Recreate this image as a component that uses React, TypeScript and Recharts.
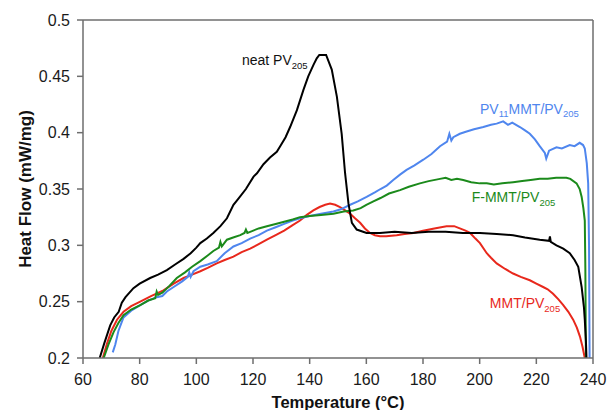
import React from "react";
import { LineChart, Line, XAxis, YAxis, ReferenceLine, ReferenceDot, Label } from "recharts";

// [temperature °C, heat flow mW/mg]
const neatPV205: [number, number][] = [
  [65.9, 0.2], [67.5, 0.213], [69.6, 0.229], [71, 0.236], [72.6, 0.241], [73.7, 0.249], [75, 0.254],
  [77.8, 0.262], [80, 0.266], [83.7, 0.271], [86.5, 0.274], [89.6, 0.278], [92.5, 0.283], [95.5, 0.288],
  [98, 0.293], [100, 0.298], [101.4, 0.302], [103.7, 0.306], [106, 0.311], [108.5, 0.317], [110.8, 0.324],
  [113.1, 0.336], [115, 0.342], [117.5, 0.35], [120.2, 0.361], [121.4, 0.364], [123.7, 0.372], [126, 0.378],
  [128.4, 0.383], [129.6, 0.388], [131.5, 0.396], [133.1, 0.405], [135.5, 0.42], [137.8, 0.438], [139.5, 0.45],
  [141.3, 0.46], [142.5, 0.466], [143.4, 0.469], [145.8, 0.469], [147.8, 0.456], [149.6, 0.432], [151.3, 0.399],
  [152.5, 0.364], [153.7, 0.337], [154.9, 0.32], [156.6, 0.314], [160.1, 0.311], [164.8, 0.311], [170, 0.312],
  [176, 0.311], [182, 0.312], [188, 0.312], [194, 0.311], [200.1, 0.311], [206, 0.31], [211.8, 0.309],
  [216, 0.307], [221.2, 0.305], [224.5, 0.304], [224.8, 0.308], [225.1, 0.303], [227.1, 0.3], [229.5, 0.297],
  [231.8, 0.293], [233.5, 0.287], [234.8, 0.281], [236, 0.263], [236.8, 0.245], [237.1, 0.234], [237.5, 0.215],
  [237.7, 0.2],
];

const mmtPV205: [number, number][] = [
  [67, 0.2], [68.5, 0.213], [70, 0.224], [72, 0.234], [74.3, 0.241], [77, 0.246], [80.2, 0.25], [84, 0.255],
  [88.4, 0.26], [92, 0.266], [95.5, 0.271], [98.5, 0.274], [101.4, 0.277], [104, 0.28], [107.2, 0.284],
  [110, 0.287], [113.1, 0.29], [116, 0.294], [119, 0.297], [122, 0.301], [124.9, 0.305], [128, 0.309],
  [131, 0.313], [134, 0.318], [136.6, 0.322], [139, 0.327], [141.3, 0.331], [143.5, 0.334], [145.5, 0.336],
  [147.2, 0.337], [149, 0.336], [150.7, 0.334], [152.5, 0.331], [154.3, 0.328], [156, 0.324], [157.8, 0.32],
  [159.5, 0.315], [161.3, 0.311], [163, 0.309], [164.8, 0.308], [167, 0.308], [170.7, 0.309], [173.5, 0.31],
  [176.6, 0.311], [180, 0.313], [184, 0.315], [188.3, 0.317], [191, 0.317], [193, 0.315], [195, 0.313],
  [196.6, 0.311], [198.5, 0.306], [200.1, 0.302], [202.5, 0.293], [204, 0.289], [206, 0.284], [209, 0.279],
  [211.8, 0.275], [214.5, 0.272], [217.7, 0.269], [220, 0.266], [222.4, 0.263], [224, 0.261], [225.9, 0.257],
  [227.8, 0.252], [229.5, 0.247], [231.3, 0.241], [233, 0.234], [234.3, 0.227], [235.4, 0.219], [236.3, 0.21],
  [237.1, 0.2],
];

const fmmtPV205: [number, number][] = [
  [67.3, 0.2], [69, 0.212], [70.8, 0.223], [72.5, 0.231], [74.3, 0.238], [77, 0.243], [80.2, 0.247],
  [83, 0.251], [85.5, 0.253], [86, 0.259], [86.5, 0.256], [88, 0.258], [90.5, 0.264], [93.1, 0.271],
  [96, 0.276], [98.5, 0.281], [101.4, 0.286], [104, 0.291], [106, 0.295], [108, 0.298], [108.5, 0.303],
  [109, 0.299], [110.8, 0.305], [113, 0.307], [115.5, 0.309], [117, 0.311], [117.5, 0.314], [118, 0.311],
  [119, 0.312], [122, 0.315], [124.9, 0.317], [128, 0.319], [131, 0.321], [134, 0.323], [136.6, 0.325],
  [140, 0.326], [144, 0.327], [148.4, 0.328], [152, 0.33], [155.4, 0.331], [158, 0.333], [160, 0.336],
  [162.5, 0.339], [165, 0.342], [168, 0.346], [171.9, 0.349], [175, 0.352], [178.9, 0.355], [182, 0.357],
  [186, 0.359], [188, 0.36], [190, 0.358], [192, 0.359], [194.2, 0.358], [197, 0.356], [200, 0.355],
  [202.5, 0.355], [205, 0.354], [208, 0.355], [211.8, 0.356], [215, 0.357], [218, 0.358], [221.2, 0.359],
  [224, 0.359], [227, 0.36], [230.6, 0.36], [232, 0.359], [234.2, 0.355], [235.3, 0.35], [236, 0.343],
  [236.6, 0.333], [237.1, 0.322], [237.3, 0.28], [237.5, 0.2],
];

const pv11mmtPV205: [number, number][] = [
  [70.5, 0.205], [71.4, 0.212], [72.5, 0.224], [74.3, 0.236], [77, 0.242], [80.2, 0.247], [83, 0.251],
  [86, 0.254], [88, 0.255], [89.6, 0.259], [92, 0.263], [95, 0.268], [97, 0.272], [97.5, 0.276], [98, 0.272],
  [99, 0.277], [101.4, 0.281], [104, 0.283], [107.2, 0.286], [110, 0.293], [113.1, 0.299], [116, 0.302],
  [119, 0.306], [122, 0.309], [124.9, 0.313], [128, 0.316], [131, 0.319], [134, 0.322], [136.6, 0.324],
  [140, 0.326], [144, 0.328], [148.4, 0.33], [151, 0.332], [154.3, 0.336], [157, 0.339], [160.1, 0.343],
  [163, 0.347], [165, 0.35], [167.2, 0.353], [169.5, 0.358], [172, 0.363], [174.2, 0.367], [177, 0.371],
  [180.1, 0.376], [183, 0.381], [186, 0.388], [188.5, 0.392], [189.3, 0.399], [190, 0.393], [190.7, 0.396],
  [193, 0.399], [195.4, 0.401], [198, 0.403], [201.3, 0.405], [204, 0.407], [206, 0.408], [208.3, 0.41],
  [210, 0.407], [211.5, 0.409], [214.2, 0.405], [216, 0.402], [217.7, 0.399], [219.5, 0.394], [221.2, 0.388],
  [223, 0.382], [223.5, 0.377], [224.5, 0.384], [227.1, 0.387], [229, 0.386], [231.8, 0.389], [233.5, 0.388],
  [235.3, 0.391], [236.5, 0.389], [237.1, 0.386], [237.8, 0.373], [238.3, 0.355], [238.6, 0.3], [238.8, 0.2],
];

const xTicks = [60, 80, 100, 120, 140, 160, 180, 200, 220, 240];
const yTicks = [0.2, 0.25, 0.3, 0.35, 0.4, 0.45, 0.5];

const toRows = (arr: [number, number][]) => arr.map(([t, v]) => ({ t, v }));

const FONT = "'Liberation Sans', Arial, Helvetica, sans-serif";
const BLACK = "#000000";
const RED = "#e8281c";
const GREEN = "#1b8a1b";
const BLUE = "#4f86ee";
const AXIS = "#6e6e6e";

type Part = { s: string; sub?: boolean };

const makeLabel = (parts: Part[], color: string) => (props: any) => {
  const { cx, cy } = props;
  let prevSub = false;
  return (
    <text x={cx} y={cy} fill={color} fontFamily={FONT} fontSize={14}>
      {parts.map((p, i) => {
        const dy = p.sub && !prevSub ? 3.5 : !p.sub && prevSub ? -3.5 : 0;
        prevSub = !!p.sub;
        return (
          <tspan key={i} dy={dy} fontSize={p.sub ? 9.5 : 14}>
            {p.s}
          </tspan>
        );
      })}
    </text>
  );
};

export default function App() {
  return (
    <div style={{ position: "absolute", left: 0, top: 0, width: 608, height: 410, background: "#fff", overflow: "hidden" }}>
      <LineChart
        width={608}
        height={410}
        margin={{ top: 20, right: 15, left: 23, bottom: 2 }}
        style={{ fontFamily: FONT }}
      >
        <XAxis
          dataKey="t"
          type="number"
          domain={[60, 240]}
          ticks={xTicks}
          allowDataOverflow
          height={50}
          tickSize={6}
          tickMargin={10}
          stroke={AXIS}
          strokeWidth={1.5}
          tick={{ fill: "#1a1a1a", fontSize: 16, fontFamily: FONT }}
        >
          <Label
            value="Temperature (°C)"
            position="insideBottom"
            offset={0}
            style={{ fontWeight: "bold", fontSize: 16.5, fill: "#111", fontFamily: FONT }}
          />
        </XAxis>
        <YAxis
          type="number"
          domain={[0.2, 0.5]}
          ticks={yTicks}
          allowDataOverflow
          width={60}
          tickSize={6}
          tickMargin={7}
          stroke={AXIS}
          strokeWidth={1.5}
          tick={{ fill: "#1a1a1a", fontSize: 16, fontFamily: FONT }}
        >
          <Label
            value="Heat Flow (mW/mg)"
            angle={-90}
            position="insideLeft"
            offset={2}
            style={{ fontWeight: "bold", fontSize: 17, fill: "#111", textAnchor: "middle", fontFamily: FONT }}
          />
        </YAxis>
        <ReferenceLine y={0.5} stroke={AXIS} strokeWidth={1.5} />
        <ReferenceLine x={240} stroke={AXIS} strokeWidth={1.5} />
        <Line data={toRows(mmtPV205)} dataKey="v" type="linear" stroke={RED} strokeWidth={2} dot={false} isAnimationActive={false} />
        <Line data={toRows(pv11mmtPV205)} dataKey="v" type="linear" stroke={BLUE} strokeWidth={2} dot={false} isAnimationActive={false} />
        <Line data={toRows(fmmtPV205)} dataKey="v" type="linear" stroke={GREEN} strokeWidth={2} dot={false} isAnimationActive={false} />
        <Line data={toRows(neatPV205)} dataKey="v" type="linear" stroke={BLACK} strokeWidth={2} dot={false} isAnimationActive={false} />
        <ReferenceDot x={116.1} y={0.46} r={0} shape={makeLabel([{ s: "neat PV" }, { s: "205", sub: true }], "#111")} />
        <ReferenceDot
          x={200.1}
          y={0.4166}
          r={0}
          shape={makeLabel([{ s: "PV" }, { s: "11", sub: true }, { s: "MMT/PV" }, { s: "205", sub: true }], BLUE)}
        />
        <ReferenceDot x={197.2} y={0.3382} r={0} shape={makeLabel([{ s: "F-MMT/PV" }, { s: "205", sub: true }], GREEN)} />
        <ReferenceDot x={203.6} y={0.2441} r={0} shape={makeLabel([{ s: "MMT/PV" }, { s: "205", sub: true }], RED)} />
      </LineChart>
    </div>
  );
}
